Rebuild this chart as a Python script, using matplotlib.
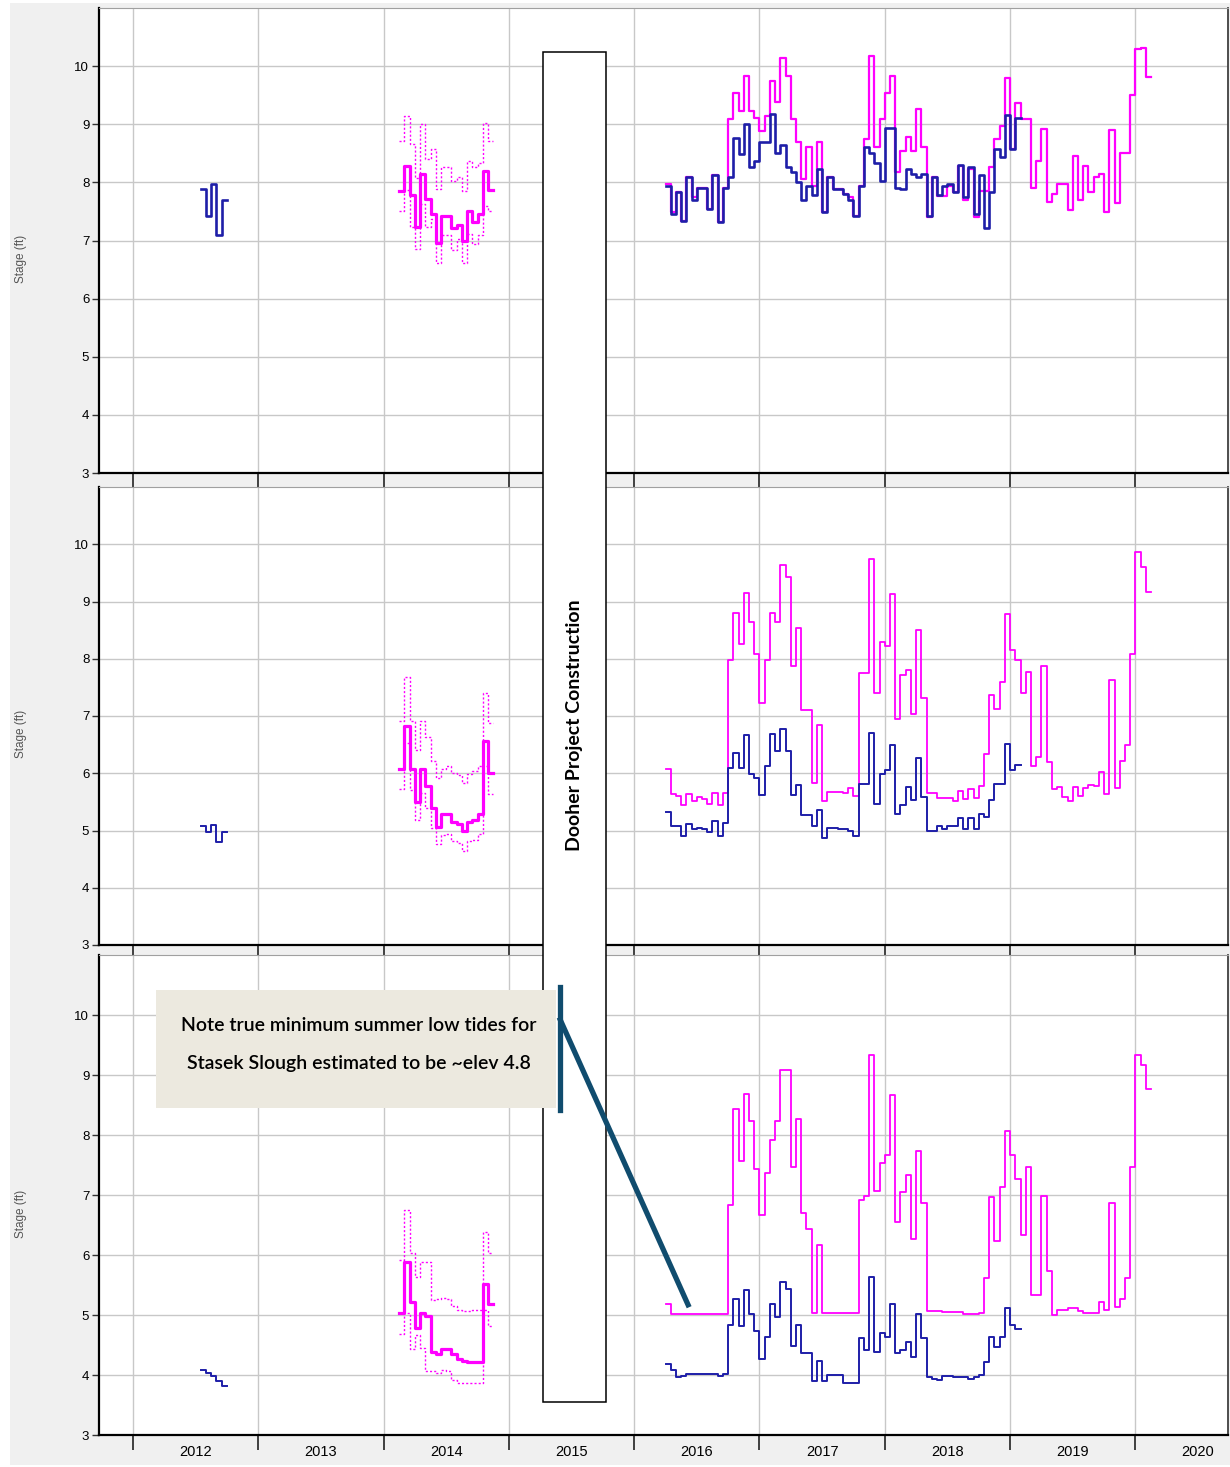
import numpy as np
import matplotlib
matplotlib.use("Agg")
import matplotlib.pyplot as plt
from matplotlib.patches import Rectangle
from matplotlib.lines import Line2D
from matplotlib.transforms import blended_transform_factory

plt.rcParams['font.family'] = ['Liberation Sans', 'DejaVu Sans']

# half-monthly stage records (ft); each list starts at the given decimal year
STEP = 1 / 24
start_2012 = 2012 + 13 / 24
start_2014 = 2014 + 3 / 24
start_2016 = 2016.25

years = list(range(2012, 2021))
year_labels = [str(y) for y in years]
construction = (2015.272, 2015.775)

# ---- panel 1 ----
p1_blue_2012 = [7.88, 7.43, 7.98, 7.10, 7.69]
p1_mag_2014 = [7.86, 8.29, 7.79, 7.23, 8.14, 7.71, 7.45, 6.95, 7.43, 7.43,
               7.22, 7.27, 6.99, 7.51, 7.31, 7.46, 8.19, 7.87]
p1_mag_2014_hi = [8.71, 9.14, 8.66, 8.07, 9.00, 8.40, 8.57, 7.89, 8.27, 8.27,
                  8.02, 8.10, 7.86, 8.37, 8.27, 8.33, 9.03, 8.71]
p1_mag_2014_lo = [7.50, 7.87, 7.23, 6.86, 7.63, 7.23, 7.37, 6.61, 7.09, 7.09,
                  6.84, 7.03, 6.61, 7.11, 6.94, 7.10, 7.60, 7.50]
p1_blue = [7.93, 7.46, 7.83, 7.34, 8.09, 7.69, 7.91, 7.91, 7.54, 8.13,
           7.31, 7.91, 8.09, 8.77, 8.49, 9.01, 8.26, 8.36, 8.69, 8.69,
           9.17, 8.51, 8.65, 8.26, 8.17, 8.00, 7.69, 7.94, 7.78, 8.23,
           7.49, 8.10, 7.89, 7.89, 7.80, 7.70, 7.43, 7.94, 8.61, 8.50,
           8.33, 8.03, 8.93, 8.93, 7.91, 7.89, 8.23, 8.15, 8.10, 8.14,
           7.43, 8.09, 7.79, 7.94, 7.97, 7.83, 8.30, 7.74, 8.26, 7.46,
           8.13, 7.22, 7.83, 8.57, 8.44, 9.16, 8.57, 9.11]
p1_mag = [7.98, 7.49, 7.83, 7.34, 8.09, 7.74, 7.91, 7.91, 7.54, 8.13,
          7.31, 7.91, 9.09, 9.53, 9.23, 9.83, 9.23, 9.11, 8.89, 9.14,
          9.75, 9.39, 10.14, 9.83, 9.09, 8.69, 8.06, 8.61, 7.94, 8.70,
          7.49, 8.10, 7.89, 7.89, 7.80, 7.75, 7.43, 7.94, 8.74, 10.17,
          8.61, 9.09, 9.53, 9.83, 8.17, 8.54, 8.78, 8.54, 9.27, 8.61,
          7.40, 8.09, 7.77, 7.77, 7.94, 7.83, 8.29, 7.70, 8.23, 7.40,
          7.85, 7.85, 8.26, 8.74, 8.97, 9.80, 8.57, 9.37, 9.09, 9.09,
          7.91, 8.36, 8.91, 7.66, 7.80, 7.97, 7.97, 7.53, 8.46, 7.69,
          8.29, 7.83, 8.09, 8.15, 7.49, 8.90, 7.65, 8.51, 8.51, 9.50,
          10.29, 10.31, 9.81]

# ---- panel 2 ----
p2_blue_2012 = [5.08, 4.98, 5.10, 4.80, 4.97]
p2_mag_2014 = [6.08, 6.83, 6.07, 5.50, 6.08, 5.78, 5.40, 5.06, 5.28, 5.28,
               5.15, 5.12, 5.00, 5.15, 5.19, 5.29, 6.56, 6.00]
p2_mag_2014_hi = [6.91, 7.68, 6.91, 6.40, 6.92, 6.63, 6.21, 5.91, 6.07, 6.13,
                  6.00, 5.97, 5.83, 5.98, 6.04, 6.13, 7.41, 6.88]
p2_mag_2014_lo = [5.73, 6.53, 5.70, 5.19, 5.66, 5.40, 5.05, 4.76, 4.93, 4.94,
                  4.81, 4.78, 4.65, 4.81, 4.84, 4.94, 6.13, 5.64]
p2_blue = [5.33, 5.08, 5.08, 4.90, 5.12, 5.03, 5.04, 5.02, 4.97, 5.17,
           4.90, 5.13, 6.10, 6.35, 6.10, 6.66, 5.98, 5.92, 5.62, 6.12,
           6.69, 6.38, 6.78, 6.38, 5.62, 5.79, 5.27, 5.27, 5.08, 5.35,
           4.87, 5.05, 5.05, 5.03, 5.03, 5.00, 4.90, 5.81, 5.81, 6.70,
           5.47, 5.98, 6.05, 6.49, 5.29, 5.45, 5.76, 5.54, 6.26, 5.58,
           5.00, 5.00, 5.07, 5.03, 5.08, 5.08, 5.21, 5.03, 5.21, 5.03,
           5.28, 5.23, 5.54, 5.81, 5.81, 6.51, 6.05, 6.14]
p2_mag = [6.08, 5.63, 5.60, 5.44, 5.64, 5.51, 5.58, 5.55, 5.47, 5.66,
          5.44, 5.66, 7.98, 8.80, 8.26, 9.15, 8.65, 8.08, 7.23, 7.98,
          8.80, 8.65, 9.64, 9.42, 7.87, 8.53, 7.11, 7.11, 5.83, 6.85,
          5.52, 5.67, 5.67, 5.67, 5.66, 5.74, 5.60, 7.75, 7.75, 9.74,
          7.40, 8.30, 8.23, 9.13, 6.94, 7.72, 7.81, 7.03, 8.51, 7.31,
          5.66, 5.65, 5.57, 5.57, 5.57, 5.52, 5.69, 5.55, 5.72, 5.56,
          5.77, 6.33, 7.36, 7.12, 7.60, 8.78, 8.16, 7.98, 7.40, 7.77,
          6.12, 6.28, 7.88, 6.20, 5.72, 5.76, 5.58, 5.51, 5.76, 5.60,
          5.74, 5.80, 5.77, 6.03, 5.64, 7.63, 5.74, 6.22, 6.49, 8.08,
          9.87, 9.61, 9.17]

# ---- panel 3 ----
p3_blue_2012 = [4.08, 4.04, 3.98, 3.90, 3.82]
p3_mag_2014 = [5.04, 5.89, 5.21, 4.79, 5.03, 4.98, 4.39, 4.35, 4.43, 4.44,
               4.35, 4.26, 4.24, 4.21, 4.22, 4.22, 5.52, 5.19]
p3_mag_2014_hi = [5.91, 6.75, 6.04, 5.63, 5.89, 5.88, 5.25, 5.26, 5.28, 5.26,
                  5.15, 5.09, 5.06, 5.06, 5.08, 5.08, 6.39, 6.04]
p3_mag_2014_lo = [4.69, 5.04, 4.43, 4.67, 4.45, 4.06, 4.06, 4.03, 4.08, 4.07,
                  3.92, 3.87, 3.87, 3.87, 3.87, 3.87, 5.08, 4.82]
p3_blue = [4.18, 4.08, 3.97, 3.98, 4.02, 4.02, 4.02, 4.02, 4.02, 4.02,
           3.98, 4.02, 4.84, 5.26, 4.81, 5.42, 5.01, 4.74, 4.26, 4.64,
           5.18, 4.96, 5.55, 5.44, 4.48, 4.83, 4.36, 4.36, 3.90, 4.23,
           3.90, 4.00, 4.00, 4.00, 3.86, 3.86, 3.86, 4.61, 4.41, 5.64,
           4.38, 4.70, 4.64, 5.18, 4.36, 4.42, 4.55, 4.30, 5.01, 4.61,
           3.96, 3.93, 3.92, 3.98, 3.98, 3.97, 3.97, 3.96, 3.94, 3.97,
           4.00, 4.22, 4.63, 4.46, 4.64, 5.12, 4.84, 4.77]
p3_mag = [5.19, 5.01, 5.02, 5.02, 5.02, 5.02, 5.02, 5.02, 5.02, 5.02,
          5.02, 5.02, 6.84, 8.44, 7.57, 8.68, 8.24, 7.44, 6.66, 7.37,
          7.91, 8.24, 9.09, 9.09, 7.47, 8.26, 6.70, 6.44, 5.03, 6.16,
          5.03, 5.03, 5.03, 5.04, 5.04, 5.03, 5.03, 6.92, 6.99, 9.34,
          7.07, 7.53, 7.66, 8.66, 6.55, 7.05, 7.34, 6.26, 7.74, 6.87,
          5.07, 5.07, 5.07, 5.05, 5.05, 5.05, 5.05, 5.02, 5.02, 5.02,
          5.03, 5.62, 6.97, 6.23, 7.13, 8.07, 7.66, 7.26, 6.33, 7.46,
          5.34, 5.34, 6.98, 5.73, 5.00, 5.08, 5.08, 5.11, 5.11, 5.07,
          5.04, 5.03, 5.03, 5.22, 5.08, 6.86, 5.13, 5.27, 5.62, 7.46,
          9.33, 9.16, 8.76]

BLUE = '#1e1ea8'
MAGENTA = '#ff00ff'


def steps(ax, start, vals, **kw):
    """Draw a half-monthly series as a post step line."""
    x = start + np.arange(len(vals) + 1) * STEP
    y = np.append(vals, vals[-1])
    ax.step(x, y, where='post', **kw)


fig = plt.figure(figsize=(12.3, 14.67), dpi=100)
fig.patch.set_facecolor('white')
fig.add_artist(Rectangle((10 / 1230, 2 / 1467), 1220 / 1230, 1462 / 1467,
                         transform=fig.transFigure, facecolor='#f0f0f0',
                         edgecolor='none', zorder=-10))

left, width = 99 / 1230, 1129 / 1230
boxes = [(8, 473), (487, 945), (955, 1435)]
panels = [
    (p1_blue_2012, p1_mag_2014, p1_mag_2014_hi, p1_mag_2014_lo, p1_blue, p1_mag, 1.9, 1.6),
    (p2_blue_2012, p2_mag_2014, p2_mag_2014_hi, p2_mag_2014_lo, p2_blue, p2_mag, 1.4, 1.3),
    (p3_blue_2012, p3_mag_2014, p3_mag_2014_hi, p3_mag_2014_lo, p3_blue, p3_mag, 1.4, 1.3),
]

axes = []
for i, ((top, bot), data) in enumerate(zip(boxes, panels)):
    b12, m14, m14hi, m14lo, blue, mag, lw_b, lw_m = data
    ax = fig.add_axes([left, 1 - bot / 1467, width, (bot - top) / 1467])
    ax.set_facecolor('white')
    ax.set_xlim(2011.729, 2020.739)
    ax.set_ylim(3, 11)
    ax.set_yticks(range(3, 11))
    ax.set_xticks(years)
    ax.grid(True, color='#c8c8c8', linewidth=1)
    ax.set_axisbelow(True)

    steps(ax, start_2014, m14hi, color=MAGENTA, lw=1.0, ls=(0, (1.5, 1.5)))
    steps(ax, start_2014, m14lo, color=MAGENTA, lw=1.0, ls=(0, (1.5, 1.5)))
    steps(ax, start_2014, m14, color=MAGENTA, lw=2.3)
    steps(ax, start_2016, mag, color=MAGENTA, lw=lw_m)
    steps(ax, start_2012, b12, color=BLUE, lw=lw_b)
    steps(ax, start_2016, blue, color=BLUE, lw=lw_b)

    ax.set_ylabel('Stage (ft)', fontsize=8.5, color='#555555')
    ax.yaxis.set_label_coords(-0.064, 0.46)
    ax.tick_params(axis='y', labelsize=9.5, length=5, width=1, color='#333333', pad=2)
    ax.tick_params(axis='x', which='major', length=11, width=1.2, color='#222222',
                   labelbottom=False)
    for side in ('left', 'bottom'):
        ax.spines[side].set_color('black')
        ax.spines[side].set_linewidth(1.6)
    ax.spines['top'].set_color('#a0a0a0')
    ax.spines['right'].set_color('#404040')
    ax.spines['right'].set_linewidth(1.3)
    axes.append(ax)

ax3 = axes[-1]
ax3.set_xticks([y + 0.5 for y in years], minor=True)
ax3.set_xticklabels(year_labels, minor=True, fontsize=10.5)
ax3.tick_params(axis='x', which='minor', length=0, pad=7)

# construction period box spanning all panels
tr = blended_transform_factory(ax3.transData, fig.transFigure)
fig.add_artist(Rectangle((construction[0], 1 - 1402 / 1467),
                         construction[1] - construction[0], 1350 / 1467,
                         transform=tr, facecolor='white', edgecolor='black',
                         linewidth=1.1, zorder=5))
fig.text(sum(construction) / 2, 1 - 725 / 1467, 'Dooher Project Construction',
         transform=tr, rotation=90, ha='center', va='center', fontsize=14,
         fontweight='bold', family=['Lato', 'DejaVu Sans'], zorder=6)

# note box in the bottom panel
fig.add_artist(Rectangle((2012.18, 8.45), 3.2, 1.97, transform=ax3.transData,
                         facecolor='#ece9df', edgecolor='none', zorder=7))
fig.text(2013.80, 9.82, 'Note true minimum summer low tides for',
         transform=ax3.transData, ha='center', va='center', fontsize=14,
         fontweight='semibold', family=['Lato', 'DejaVu Sans'], zorder=8)
fig.text(2013.80, 9.20, 'Stasek Slough estimated to be ~elev 4.8',
         transform=ax3.transData, ha='center', va='center', fontsize=14,
         fontweight='semibold', family=['Lato', 'DejaVu Sans'], zorder=8)
fig.add_artist(Line2D([2015.41, 2015.41], [10.47, 8.42], transform=ax3.transData,
                      color='#104c6e', lw=3.8, zorder=8))
fig.add_artist(Line2D([2015.41, 2016.43], [9.92, 5.17], transform=ax3.transData,
                      color='#104c6e', lw=3.8, zorder=8))

fig.savefig('out.png', dpi=100)
